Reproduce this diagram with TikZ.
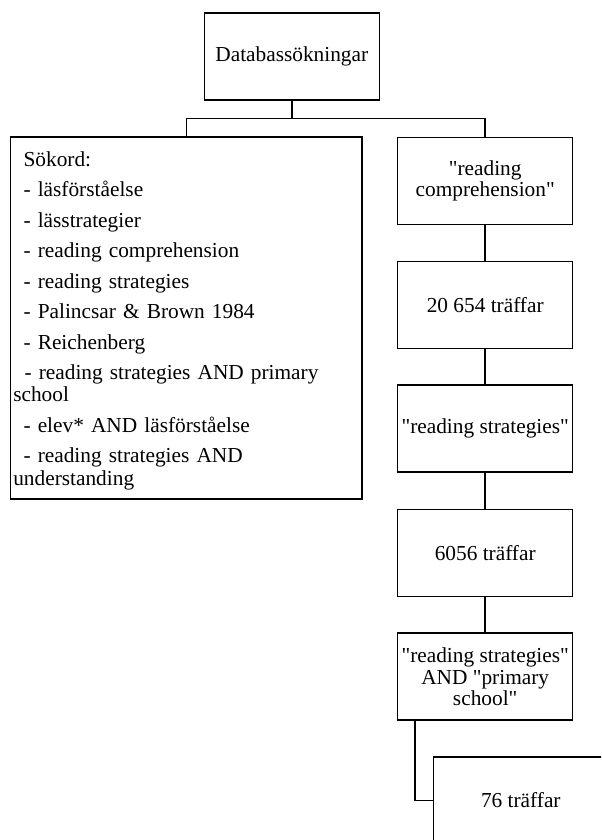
\documentclass[tikz,border=0pt]{standalone}
\usepackage{fontspec}
\newfontfamily\plainserif{Liberation Serif}
\begin{document}
\begin{tikzpicture}[x=0.75pt,y=-0.75pt,
  box/.style={draw, line width=1.1pt, minimum width=131.25pt, minimum height=65.25pt,
    inner sep=0pt, align=center, font=\plainserif\fontsize{16}{16.3}\selectfont},
  listbox/.style={draw, line width=1.1pt, minimum width=263.5pt, minimum height=271.5pt,
    inner xsep=1.5pt, inner ysep=0pt, text width=259.5pt, align=left,
    font=\plainserif\fontsize{16}{16.3}\selectfont},
  conn/.style={line width=1.1pt}]
\path[use as bounding box, fill=white] (0,0) rectangle (601,840);
\clip (0,0) rectangle (601,840);
\node[box] (top) at (291.8,56.7) {Databassökningar};
\node[listbox] (left) at (186.3,318) {%
\rule{0pt}{15.3pt}\hspace*{7.7pt}Sökord:\\[6.6pt]
\hspace*{7.7pt}- läsförståelse\\[6.6pt]
\hspace*{7.7pt}- lässtrategier\\[6.6pt]
\hspace*{7.7pt}- reading comprehension\\[6.6pt]
\hspace*{7.7pt}- reading strategies\\[6.6pt]
\hspace*{7.7pt}- Palincsar \& Brown 1984\\[6.6pt]
\hspace*{7.7pt}- Reichenberg\\[6.6pt]
\hspace*{8.5pt}- reading strategies AND primary\\
school\\[6.6pt]
\hspace*{7.7pt}- elev* AND läsförståelse\\[6.6pt]
\hspace*{7.7pt}- reading strategies AND\\[0.8pt]
understanding};
\node[box] (r1) at (485.2,180.8) {"reading\\comprehension"};
\node[box] (r2) at (485.2,305) {20 654 träffar};
\node[box] (r3) at (485.2,428.7) {"reading strategies"};
\node[box] (r4) at (485.2,553) {6056 träffar};
\node[box] (r5) at (485.2,676.7) {"reading strategies"\\AND "primary\\school"};
\node[box] (r6) at (520.8,800.5) {76 träffar};
\coordinate (bus) at (291.8,118.5);
\draw[conn] (top.south) -- (bus);
\draw[conn] (left.north) |- (bus) -| (r1.north);
\draw[conn] (r1) -- (r2);
\draw[conn] (r2) -- (r3);
\draw[conn] (r3) -- (r4);
\draw[conn] (r4) -- (r5);
\draw[conn] ([xshift=13.5pt]r5.south west) |- (r6.west);
\end{tikzpicture}
\end{document}
